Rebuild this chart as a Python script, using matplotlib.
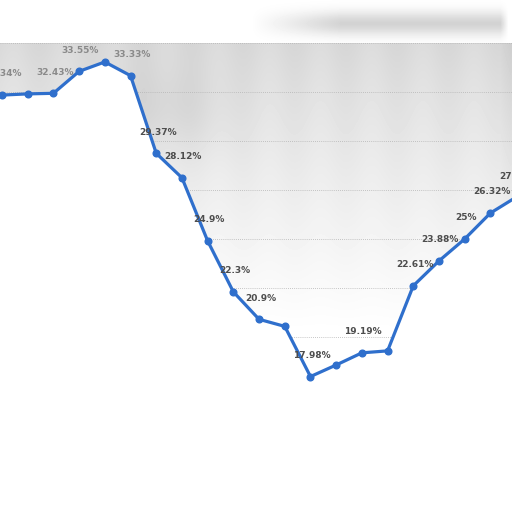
import numpy as np
import matplotlib
matplotlib.use("Agg")
from matplotlib import pyplot

# share per step (last one sits just past the right edge)
values = [32.34, 32.40, 32.43, 33.55, 34.03, 33.33, 29.37, 28.12, 24.90, 22.30,
          20.90, 20.54, 17.98, 18.57, 19.19, 19.29, 22.61, 23.88, 25.00, 26.32,
          27.13]
# which points carry a visible label
labelled = [0, 2, 3, 5, 6, 7, 8, 9, 10, 12, 14, 16, 17, 18, 19, 20]
label_texts = ["32.34%", "32.43%", "33.55%", "33.33%", "29.37%", "28.12%", "24.9%",
               "22.3%", "20.9%", "17.98%", "19.19%", "22.61%", "23.88%", "25%",
               "26.32%", "27.13%"]
faded = [0, 2, 3, 5]
grid_values = [20, 22.5, 25, 27.5, 30, 32.5, 35]


def background(size=512):
    """grey wash behind the chart: a blurred band on top, fading shade below"""
    rows = np.arange(size)[:, None].astype(float)
    cols = np.arange(size)[None, :].astype(float)
    img = np.ones((size, size))

    # blurred bar in the top strip, right side
    sx = np.clip((cols - 250) / 90.0, 0, 1) * np.clip((508 - cols) / 8.0, 0, 1)
    sy = np.exp(-((rows - 23) / 12.0) ** 2)
    img -= 0.17 * sx * sy

    # shaded plot area under the top border
    t = np.clip((rows - 43) / 290.0, 0, 1)
    shade = 0.85 + 0.15 * t ** 0.9
    blob = 0.05 * np.exp(-((cols - 160) / 60.0) ** 2 - ((rows - 110) / 45.0) ** 2)
    stripes = 0.012 * np.sin(cols / 512.0 * 2 * np.pi * 10) * (1 - t)
    edge = 0.04 * np.clip((cols - 500) / 10.0, 0, 1) * (1 - t)
    lower = np.clip(shade - blob + stripes - edge, 0, 1)
    img = np.where(rows >= 43, lower, img)
    return img


def visualize(path="out.png"):
    fig = pyplot.figure(figsize=(5.12, 5.12), dpi=100)
    ax = fig.add_axes([0, 0, 1, 1])
    ax.set_axis_off()

    x = np.arange(len(values))
    ax.set_xlim(-0.078, 19.84)
    ax.set_ylim(11.07, 37.19)

    ax.imshow(background(), cmap="gray", vmin=0, vmax=1, extent=(0, 1, 0, 1),
              transform=ax.transAxes, aspect="auto", zorder=0)

    for g in grid_values:
        ax.axhline(g, color="#b4b4b4", linewidth=0.6, linestyle=(0, (1, 1.5)), zorder=1)

    # white under the line hides the grid and the shade
    fill_x = np.r_[x[0] - 1, x]
    fill_y = np.r_[values[0], values]
    ax.fill_between(fill_x, fill_y, 0, color="white", zorder=2, linewidth=0)

    ax.plot(x, values, "-o", color="#2f6fcc", linewidth=2.3, markersize=4.8,
            zorder=3, clip_on=True)

    for i, text in zip(labelled, label_texts):
        colour = "#8a8a8a" if i in faded else "#4d4d4d"
        ax.annotate(text, (x[i], values[i]), xytext=(1, 12), textcoords="offset points",
                    ha="center", va="bottom", fontsize=6.5, fontweight="bold",
                    color=colour, zorder=4, annotation_clip=False)

    fig.savefig(path, dpi=100)


if __name__ == "__main__":
    visualize()
